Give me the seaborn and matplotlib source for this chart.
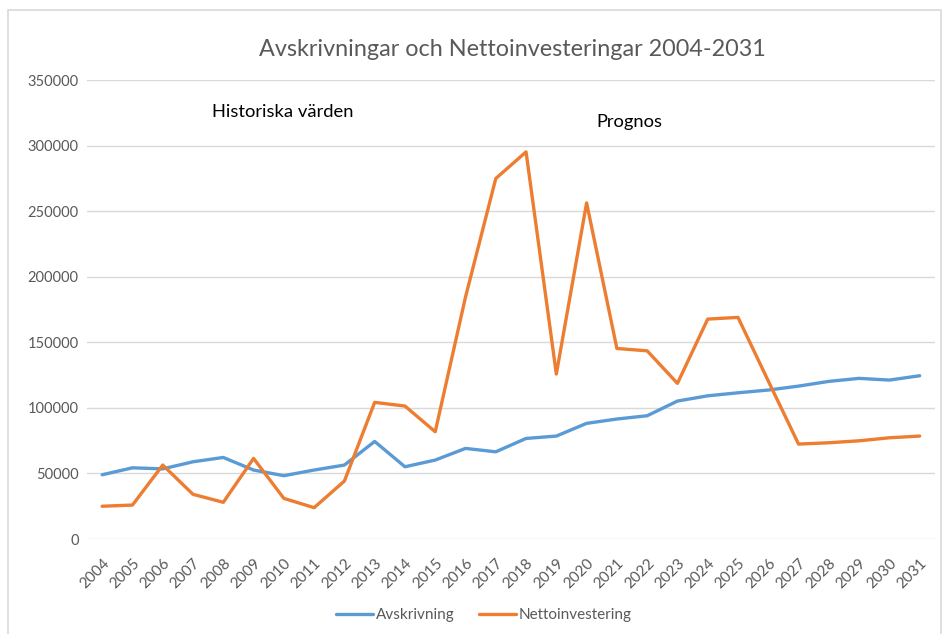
import matplotlib
matplotlib.use("Agg")
import matplotlib.pyplot as plt
import pandas as pd
import seaborn as sns
from matplotlib.patches import Rectangle

years = list(range(2004, 2032))
avskrivning = [49000, 54300, 53500, 58900, 62200, 52600, 48300, 52600, 56400, 74400,
               55100, 60200, 69100, 66500, 76700, 78500, 88200, 91500, 94000, 105200,
               109200, 111500, 113600, 116600, 120200, 122500, 121200, 124500]
nettoinvestering = [25000, 25900, 56400, 34100, 28000, 61500, 31000, 23900, 44200, 104200,
                    101400, 81800, 184500, 274900, 295200, 125800, 256300, 145300, 143500, 118700,
                    167700, 169000, 120500, 72400, 73400, 74900, 77200, 78500]
series_names = ["Avskrivning", "Nettoinvestering"]
colors = ["#5B9BD5", "#ED7D31"]
yticks = [0, 50000, 100000, 150000, 200000, 250000, 300000, 350000]

df = pd.DataFrame({"År": years, "Avskrivning": avskrivning, "Nettoinvestering": nettoinvestering})
long = df.melt(id_vars="År", var_name="Serie", value_name="Värde")

sns.set_theme(style="white")
plt.rcParams["font.family"] = ["Lato", "DejaVu Sans"]

fig = plt.figure(figsize=(9.43, 6.34), dpi=100)
fig.patches.append(Rectangle((0.008, -0.01), 0.99, 0.995, transform=fig.transFigure,
                             fill=False, edgecolor="#D9D9D9", linewidth=1.2))
ax = fig.add_axes([0.0923, 0.1498, 0.899, 0.724])

sns.lineplot(data=long, x="År", y="Värde", hue="Serie", palette=colors,
             hue_order=series_names, linewidth=2.4, ax=ax, legend=False)

ax.set_xlim(2003.5, 2031.5)
ax.set_ylim(0, 350000)
ax.set_xticks(years)
ax.set_xticklabels([str(y) for y in years], rotation=45, ha="right",
                   rotation_mode="anchor", fontsize=11, color="#595959")
ax.set_yticks(yticks)
ax.set_yticklabels([str(v) for v in yticks], fontsize=10.5, color="#595959")
ax.tick_params(axis="y", length=0, pad=6)
ax.tick_params(axis="x", length=0, pad=12)
ax.grid(axis="y", color="#D9D9D9", linewidth=1)
ax.set_axisbelow(True)
for s in ax.spines.values():
    s.set_visible(False)
ax.set_xlabel("")
ax.set_ylabel("")

fig.text(0.543, 0.922, "Avskrivningar och Nettoinvesteringar 2004-2031",
         ha="center", va="center", fontsize=16.8, color="#595959")
ax.text(2009.95, 325400, "Historiska värden", ha="center", va="center", fontsize=13.2, color="black")
ax.text(2021.4, 317800, "Prognos", ha="center", va="center", fontsize=13.2, color="black")

handles = [plt.Line2D([], [], color=c, linewidth=2.4) for c in colors]
fig.legend(handles, series_names, loc="center", bbox_to_anchor=(0.513, 0.03), ncol=2,
           frameon=False, fontsize=11, handlelength=2.4, columnspacing=1.6,
           handletextpad=0.2, labelcolor="#595959")

fig.savefig("out.png", dpi=100)
